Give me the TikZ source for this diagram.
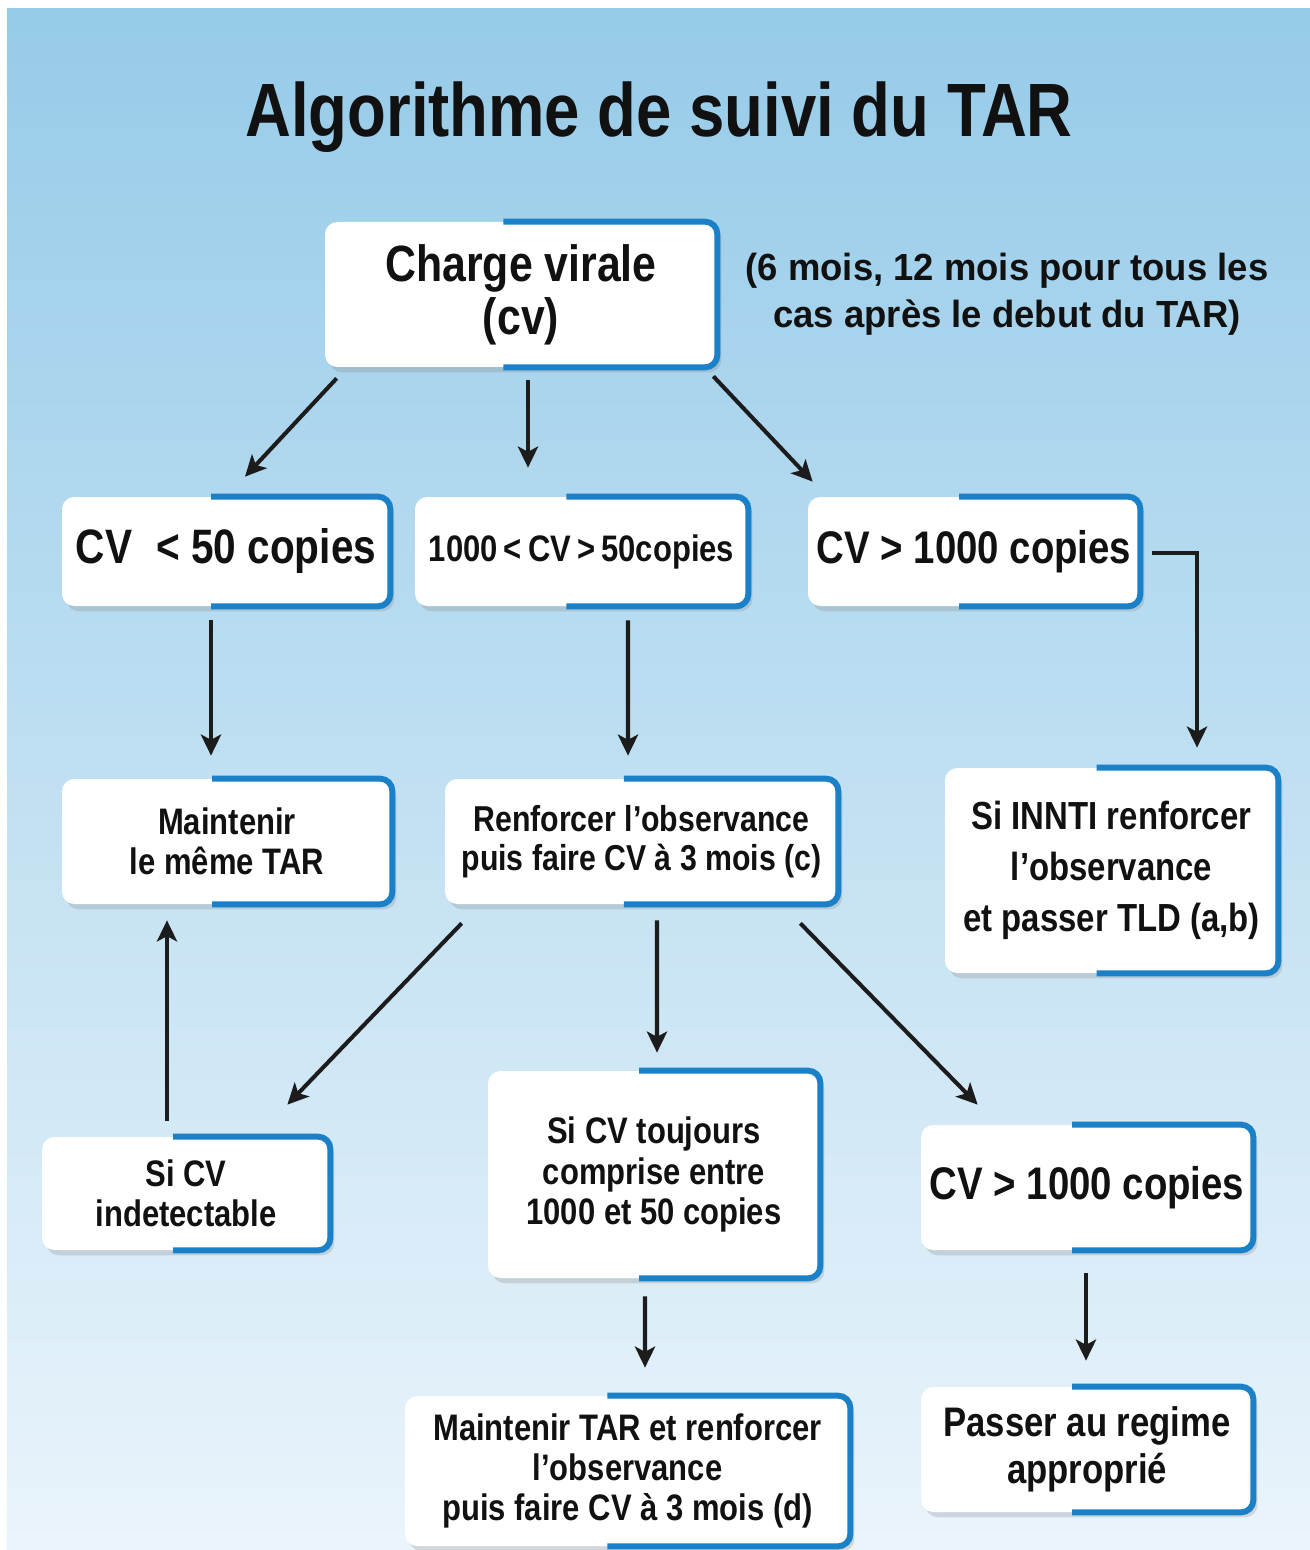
\documentclass[tikz,border=0pt]{standalone}
\usepackage{fontspec}
\newfontfamily\cardfont{Liberation Sans Bold}[FakeStretch=0.84]
\newfontfamily\notefont{Liberation Sans Bold}[FakeStretch=0.965]
\usepackage{xcolor}
\usepackage{tikz}
\usetikzlibrary{positioning,calc,shadows,arrows.meta}
\definecolor{skytop}{HTML}{96CBE9}
\definecolor{skymid}{HTML}{A9D5EE}
\definecolor{skybot}{HTML}{EAF4FB}
\definecolor{rimblue}{HTML}{1A80C8}
\definecolor{ink}{HTML}{111111}
\definecolor{arrowink}{HTML}{1C1C1C}
\tikzset{
  wh/.style n args={2}{minimum width=#1*0.02cm, minimum height=#2*0.02cm}
}

\begin{document}
\begin{tikzpicture}[
  x=0.02cm, y=-0.02cm,
  card/.style={fill=white, rounded corners=7pt, align=center, inner sep=0pt, text=ink,
               drop shadow={shadow xshift=2.5pt, shadow yshift=-3pt, opacity=0.25}},
  txt/.style={font=\cardfont\fontsize{21}{23}\selectfont},
  txtbig/.style={font=\cardfont\fontsize{26}{28}\selectfont},
  rim/.style={draw=rimblue, line width=3.4pt, rounded corners=7pt},
  arrow/.style={-{Stealth[length=12pt, width=11.5pt, inset=3pt]}, line width=2.3pt, color=arrowink}
]

\useasboundingbox (0,0) rectangle (1310,1550);
\shade[top color=skytop, middle color=skymid, bottom color=skybot] (7,9) rectangle (1310,1550);

\node[anchor=base, text=ink, font=\cardfont\fontsize{43}{45}\selectfont] (title) at (659,137) {Algorithme de suivi du TAR};

\node[card, wh={392}{145}, font=\cardfont\fontsize{29}{30}\selectfont] (cv) at (521,294.5) {Charge virale\\(cv)};
\node[right=0.56cm of cv, inner sep=0pt, align=center, text=ink,
      font=\notefont\fontsize{21.5}{26.5}\selectfont] (when) {(6 mois, 12 mois pour tous les\\cas après le debut du TAR)};

\node[card, wh={328}{109}, font=\cardfont\fontsize{27.5}{29}\selectfont] (lt50) at (226,551.5) {CV\enspace< 50 copies};
\node[card, txt, wh={333}{109}] (mid) at (581.5,551.5) {1000\,<\,CV\,>\,50copies};
\node[card, txtbig, wh={332}{109}] (gt1000) at (974,551.5) {CV > 1000 copies};

\node[card, txt, wh={330}{125}] (keep) at (227,841.5) {Maintenir\\le même TAR};
\node[card, wh={393}{125}, font=\cardfont\fontsize{20.5}{22.5}\selectfont] (renf) at (641.5,841.5) {Renforcer l’observance\\puis faire CV à 3 mois (c)};
\node[card, wh={333}{205}, font=\cardfont\fontsize{22.3}{29}\selectfont] (innti) at (1111.5,870.5) {Si INNTI renforcer\\l’observance\\et passer TLD (a,b)};

\node[card, txt, wh={288}{113}] (indet) at (186,1193.5) {Si CV\\indetectable};
\node[card, txt, wh={332}{207}] (still) at (654,1174.5) {Si CV toujours\\comprise entre\\1000 et 50 copies};
\node[card, txtbig, wh={332}{125}] (gt1000b) at (1087,1187.5) {CV > 1000 copies};

\node[card, wh={332}{125}, font=\cardfont\fontsize{23.5}{27}\selectfont] (regime) at (1087,1449.5) {Passer au regime\\approprié};
\node[card, txt, wh={445}{150}] (keeptar) at (627.5,1471) {Maintenir TAR et renforcer\\l’observance\\puis faire CV à 3 mois (d)};

% blue rims on the right half of each card
\foreach \n in {cv,lt50,mid,gt1000,keep,renf,innti,indet,still,gt1000b,regime,keeptar}
  \draw[rim] ($(\n.north west)!0.455!(\n.north east)$) -- (\n.north east)
    -- (\n.south east) -- ($(\n.south west)!0.455!(\n.south east)$);

\draw[arrow] ($(cv.south west)+(12,11)$) -- ($(lt50.north)+(19,-20)$);
\draw[arrow] ($(cv.south)+(7,13)$) -- ($(mid.north)+(-53.5,-29)$);
\draw[arrow] ($(cv.south east)+(-4,9)$) -- ($(gt1000.north west)+(5,-15)$);
\draw[arrow] ($(lt50.south)+(-15,14)$) -- ($(keep.north)+(-16,-23)$);
\draw[arrow] ($(mid.south)+(46.5,14)$) -- ($(renf.north)+(-13.5,-23)$);
\draw[arrow] ($(gt1000.east)+(12,1.5)$) -| ($(innti.north)+(85.5,-20)$);
\draw[arrow] ($(renf.south west)+(17,19)$) -- ($(indet.north east)+(-43,-32)$);
\draw[arrow] ($(renf.south)+(15.5,16)$) -- ($(still.north)+(3,-18)$);
\draw[arrow] ($(renf.south east)+(-38,19)$) -- ($(gt1000b.north west)+(57,-20)$);
\draw[arrow] ($(indet.north)+(-19,-16)$) -- ($(keep.south)+(-60,16)$);
\draw[arrow] ($(still.south)+(-9,18)$) -- ($(keeptar.north)+(17.5,-28)$);
\draw[arrow] ($(gt1000b.south)+(-1,23)$) -- ($(regime.north)+(-1,-26)$);

\end{tikzpicture}
\end{document}
